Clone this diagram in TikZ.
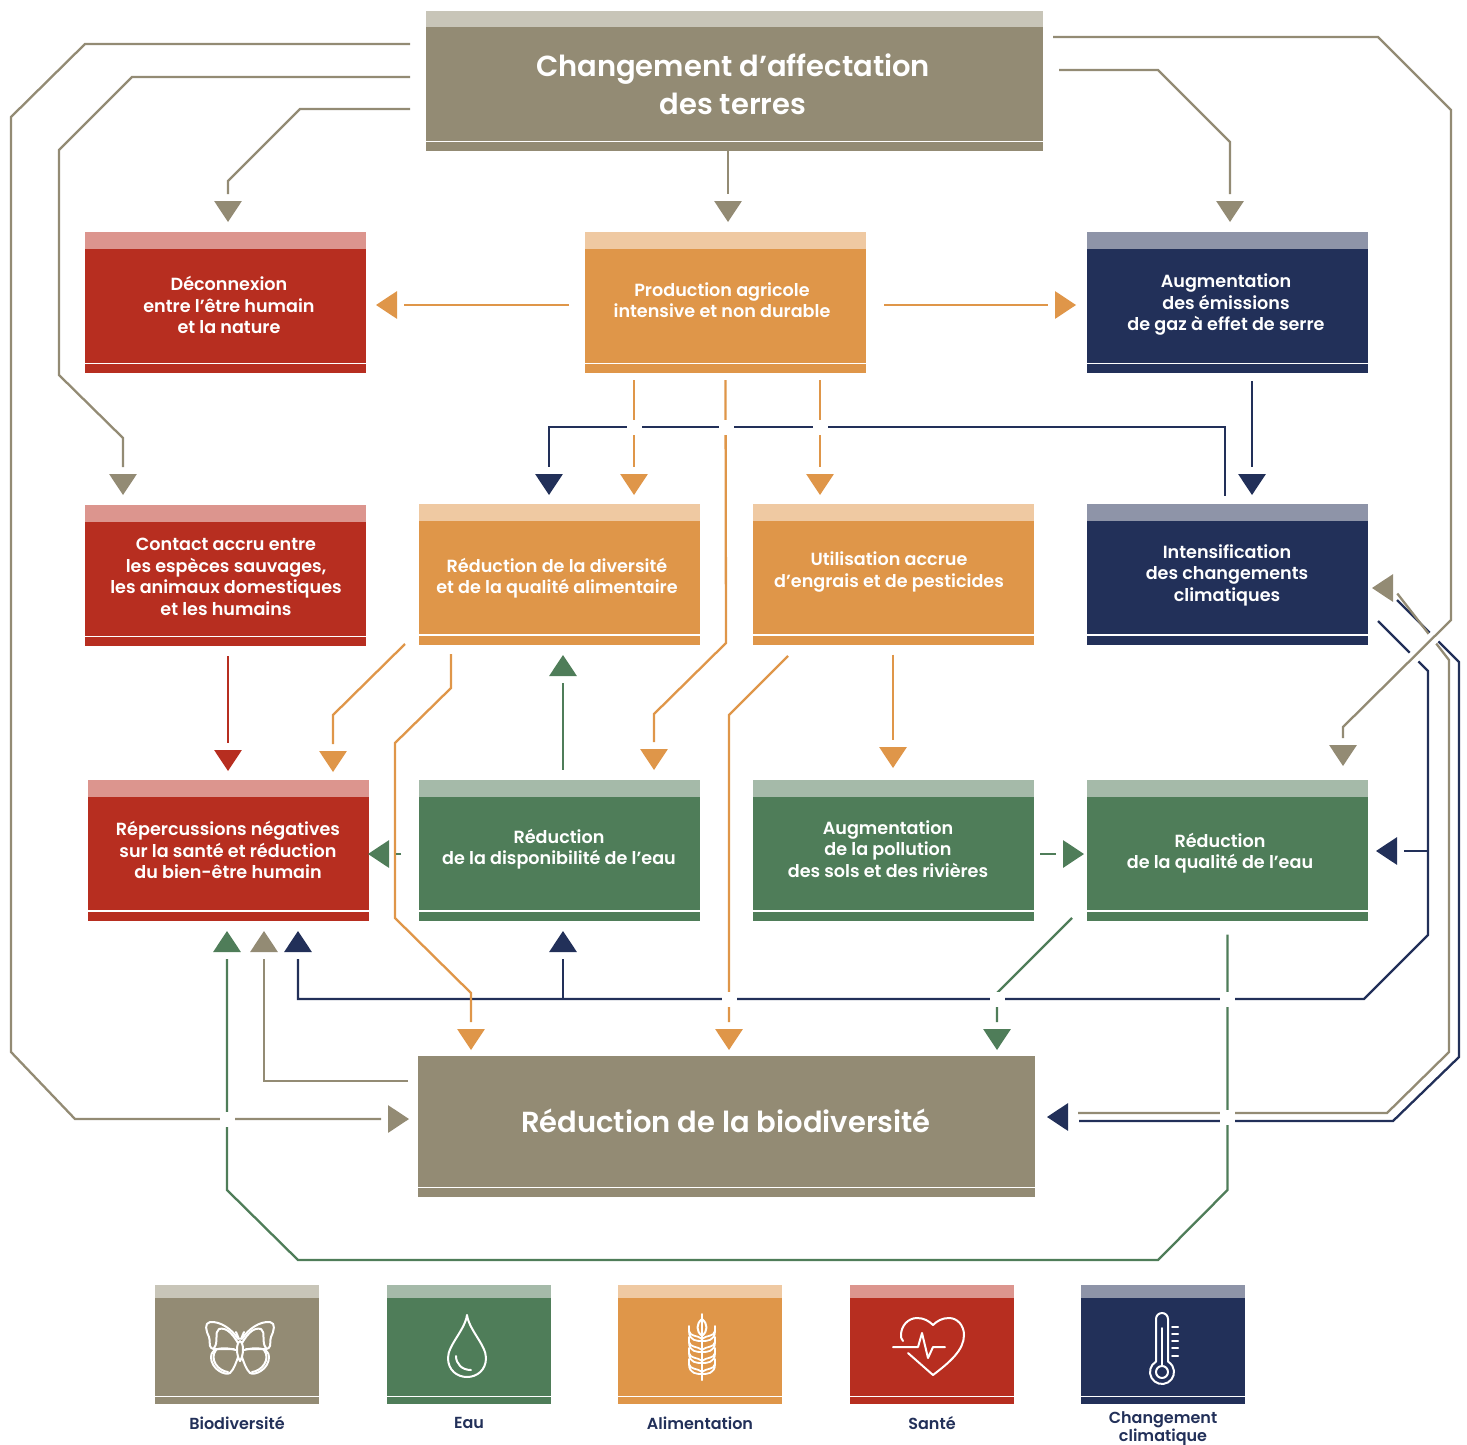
\documentclass[tikz,border=0pt]{standalone}
\usepackage{fontspec}
\setmainfont{Poppins}[BoldFont={Poppins SemiBold}]
\usetikzlibrary{shapes.geometric}
\definecolor{taupe}{HTML}{938B74}
\definecolor{taupeL}{HTML}{C8C5B8}
\definecolor{leaf}{HTML}{4F7D59}
\definecolor{leafL}{HTML}{A5BAA9}
\definecolor{grain}{HTML}{DF9649}
\definecolor{grainL}{HTML}{EFC9A2}
\definecolor{brick}{HTML}{B72E20}
\definecolor{brickL}{HTML}{DC958E}
\definecolor{navy}{HTML}{223059}
\definecolor{navyL}{HTML}{8E94A8}
\tikzset{
  box/.style n args={4}{rectangle, inner sep=0pt, outer sep=0pt, fill=#1, path picture={
    \fill[#2] (path picture bounding box.north west) rectangle ([yshift=-#3pt]path picture bounding box.north east);
    \fill[white] ([yshift=#4pt]path picture bounding box.south west) rectangle ([yshift=#4pt+1.4pt]path picture bounding box.south east);}},
  lab/.style={text=white, align=center, font=\bfseries\fontsize{17.6}{21.5}\selectfont},
  biglab/.style={text=white, align=center, font=\bfseries\fontsize{29}{38}\selectfont},
  leglab/.style={text=navy, align=center, font=\bfseries\fontsize{16}{18}\selectfont},
  hd/.style 2 args={isosceles triangle, isosceles triangle apex angle=67, inner sep=0pt, outer sep=0pt, minimum height=21pt, fill=#1, shape border rotate=#2, anchor=apex},
  ln/.style={draw=#1, line width=2.3pt, shorten >=7pt},
  gapsq/.style={rectangle, fill=white, inner sep=0pt, minimum size=15pt},
  icon/.style={draw=white, line width=2pt, line cap=round, line join=round}
}
\begin{document}
\begin{tikzpicture}[x=1pt, y=-1pt]
  \useasboundingbox (0,0) rectangle (1467,1445);

  \node[box={taupe}{taupeL}{16}{9}, minimum width=617pt, minimum height=140pt] (title) at (734.5,81) {};
  \node[box={taupe}{taupe}{16}{9}, minimum width=617pt, minimum height=141pt] (bio) at (726.5,1126.5) {};
  \foreach \nm/\cl/\x/\y in {decon/brick/225.5/302.5, prod/grain/725.5/302.5, ghg/navy/1227.5/302.5,
    contact/brick/225.5/575.5, diet/grain/559.5/574, engr/grain/893.5/574, clim/navy/1227.5/574,
    rep/brick/228.5/850, dispo/leaf/559.5/850, pollu/leaf/893.5/850, qual/leaf/1227.5/850}
    \node[box={\cl}{\cl L}{17}{9}, minimum width=281pt, minimum height=141pt] (\nm) at (\x,\y) {};

  \foreach \nm/\x/\y/\txt in {
    titleT/733/84/{Changement d’affectation\\des terres},
    bioT/726/1121/{Réduction de la biodiversité}}
    \node[biglab] (\nm) at (\x,\y) {\txt};
  \foreach \nm/\x/\y/\txt in {
    deconT/229/305/{Déconnexion\\entre l’être humain\\et la nature},
    prodT/722/300/{Production agricole\\intensive et non durable},
    ghgT/1226/305/{Augmentation\\des émissions\\de gaz à effet de serre},
    contactT/226/577/{Contact accru entre\\les espèces sauvages,\\les animaux domestiques\\et les humains},
    dietT/557/578/{Réduction de la diversité\\et de la qualité alimentaire},
    engrT/889/572/{Utilisation accrue\\d’engrais et de pesticides},
    climT/1227/575/{Intensification\\des changements\\climatiques},
    repT/228/850/{Répercussions négatives\\sur la santé et réduction\\du bien-être humain},
    dispoT/559/849/{Réduction\\de la disponibilité de l’eau},
    polluT/888/849/{Augmentation\\de la pollution\\des sols et des rivières},
    qualT/1220/853/{Réduction\\de la qualité de l’eau}}
    \node[lab] (\nm) at (\x,\y) {\txt};

  \foreach \nm/\cl/\r/\x/\y in {
    hDecon/taupe/-90/228/222, hProd/taupe/-90/728/222, hGhg/taupe/-90/1230/222,
    hDeconOr/grain/180/376/305, hGhgOr/grain/0/1076/305,
    hContact/taupe/-90/123/495, hDietNavy/navy/-90/549/495, hDietOr/grain/-90/634/495,
    hEngr/grain/-90/820/495, hClimNavy/navy/-90/1252/495, hClimTaupe/taupe/135/1372/588,
    hRepRed/brick/-90/228/771, hRepOr/grain/-90/333/772, hDispoOr/grain/-90/654/770,
    hPolluOr/grain/-90/893/768, hQualTaupe/taupe/-90/1343/766, hDietLeaf/leaf/90/563/655,
    hRepLeaf/leaf/180/368/854, hQualLeaf/leaf/0/1084/854, hQualNavy/navy/180/1376/851,
    hUpLeaf/leaf/90/227/931, hUpTaupe/taupe/90/264/931, hUpNavy/navy/90/298/931, hDispoNavy/navy/90/563/931,
    hBioOrA/grain/-90/471/1050, hBioOrB/grain/-90/729/1050, hBioLeaf/leaf/-90/997/1050,
    hBioTaupe/taupe/0/409/1119, hBioNavy/navy/180/1047/1117}
    \node[hd={\cl}{\r}] (\nm) at (\x,\y) {};

  \coordinate (climOutA) at (1397,600);
  \coordinate (climOutB) at (1378,621);

  \draw[ln=navy, shorten <=0pt, shorten >=11pt] (climOutA) -- (1459,662) -- (1459,1057) -- (1393,1121) -- (hBioNavy.lower side |- 0,1121);
  \draw[ln=navy, shorten <=0pt] (climOutB) -- (1428,671) -- (1428,935) -- (1364,999) -- (298,999) -- (hUpNavy.lower side);
  \draw[ln=navy] (1428,851) -- (hQualNavy.lower side);
  \draw[ln=navy] (563,999) -- (hDispoNavy.lower side);
  \draw[ln=taupe, shorten <=43pt] (bio.east |- 0,1113) -- (1387,1113) -- (1449,1052) -- (1449,660) -- (hClimTaupe.lower side);
  \draw[white, line width=12pt] (1443,628) -- (1405,666);
  \draw[ln=taupe, shorten <=10pt] (title.east |- 0,37) -- (1378,37) -- (1451,110) -- (1451,620) -- (1343,727) -- (hQualTaupe.lower side);
  \draw[ln=taupe, shorten <=16pt] (title.east |- 0,70) -- (1158,70) -- (1230,142) -- (hGhg.lower side);
  \draw[ln=taupe, shorten <=16pt] (title.west |- 0,109) -- (300,109) -- (228,181) -- (hDecon.lower side);
  \draw[ln=taupe, shorten <=16pt] (title.west |- 0,77) -- (132,77) -- (59,150) -- (59,375) -- (123,438) -- (hContact.lower side);
  \draw[ln=taupe, shorten <=16pt] (title.west |- 0,44) -- (85,44) -- (11,117) -- (11,1052) -- (75,1119) -- (hBioTaupe.lower side);
  \draw[ln=taupe] (title.south -| hProd) -- (hProd.lower side);
  \draw[ln=taupe, shorten <=10pt] (bio.west |- 0,1081) -- (264,1081) -- (hUpTaupe.lower side);

  \draw[ln=grain, shorten <=16pt] (prod.west |- hDeconOr) -- (hDeconOr.lower side);
  \draw[ln=grain, shorten <=18pt] (prod.east |- hGhgOr) -- (hGhgOr.lower side);
  \draw[ln=grain, shorten <=7pt] (prod.south -| hDietOr) -- (hDietOr.lower side);
  \draw[ln=grain, shorten <=7pt] (prod.south -| hEngr) -- (hEngr.lower side);
  \draw[ln=grain, shorten <=7pt] (prod.south) -- (726,643) -- (654,714) -- (hDispoOr.lower side);
  \draw[ln=grain] (405,644) -- (333,715) -- (hRepOr.lower side);
  \draw[ln=grain, shorten <=9pt] (451,645) -- (451,688) -- (395,743) -- (395,918) -- (471,993) -- (hBioOrA.lower side);
  \draw[ln=grain] (788,656) -- (729,715) -- (hBioOrB.lower side);
  \draw[ln=grain, shorten <=10pt] (engr.south -| hPolluOr) -- (hPolluOr.lower side);
  \draw[ln=navy, shorten <=8pt] (clim.north -| 1225,0) -- (1225,427) -- (549,427) -- (hDietNavy.lower side);
  \draw[ln=navy, shorten <=8pt] (ghg.south -| hClimNavy) -- (hClimNavy.lower side);
  \draw[ln=brick, shorten <=10pt] (contact.south -| hRepRed) -- (hRepRed.lower side);

  \draw[ln=leaf, shorten <=10pt] (dispo.north -| hDietLeaf) -- (hDietLeaf.lower side);
  \draw[ln=leaf, shorten <=18pt] (dispo.west |- hRepLeaf) -- (hRepLeaf.lower side);
  \draw[ln=leaf, shorten <=6pt] (pollu.east |- hQualLeaf) -- (hQualLeaf.lower side);
  \draw[ln=leaf] (1072,918) -- (997,993) -- (hBioLeaf.lower side);
  \draw[ln=leaf, shorten <=14pt] (qual.south) -- (1227.5,1190) -- (1158,1260) -- (298,1260) -- (227,1190) -- (hUpLeaf.lower side);

  \foreach \nm/\x/\y in {xa/634/427, xb/726/427, xc/820/427, xd/729/999, xe/997/999, xf/1227.5/999,
    xg/1227.5/1117, xh/227/1119}
    \node[gapsq] (\nm) at (\x,\y) {};

  \foreach \nm/\cl/\x/\y/\txt in {
    legBio/taupe/237/1423/{Biodiversité}, legEau/leaf/469/1423/{Eau}, legAli/grain/700/1423/{Alimentation},
    legSan/brick/932/1423/{Santé}, legCli/navy/1163/1429/{Changement\\climatique}}{
    \node[box={\cl}{\cl L}{13}{7}, minimum width=164pt, minimum height=119pt, anchor=north] (\nm) at (\x,1285) {};
    \node[leglab] (\nm T) at (\x,\y) {\txt};
  }

  \foreach \s in {-1,1}{
    \begin{scope}[shift={(240,1347)}, xscale=\s, icon]
      \draw (2,-8) .. controls (8,-18) and (20,-26) .. (30,-25) .. controls (36,-24) and (34,-16) .. (31,-10) .. controls (29,-3) and (33,2) .. (24,2) -- (6,2);
      \draw (2,-4) .. controls (8,-14) and (14,-20) .. (21,-18) .. controls (26,-15) and (21,-5) .. (26,1);
      \draw (4,3) .. controls (15,0) and (29,0) .. (29,10) .. controls (29,22) and (15,29) .. (10,26) .. controls (6,22) and (4,16) .. (2,10);
      \draw (24,3) .. controls (31,12) and (22,24) .. (12,25);
      \draw (0,-6) .. controls (4,-4) and (4,8) .. (0,14);
      \draw (1,-8) -- (4,-15);
    \end{scope}
  }

  \draw[icon] (467,1315) .. controls (465,1330) and (448,1345) .. (448,1358) .. controls (448,1370) and (457,1377) .. (467,1377) .. controls (477,1377) and (486,1370) .. (486,1358) .. controls (486,1345) and (469,1330) .. cycle;
  \draw[icon] (456,1356) .. controls (456,1364) and (462,1370) .. (471,1370);

  \draw[icon] (702,1314) -- (702,1380);
  \draw[icon] (702,1319) .. controls (696,1324) and (696,1331) .. (702,1336) .. controls (708,1331) and (708,1324) .. (702,1319);
  \foreach \yy in {1331,1342,1353,1364}{
    \foreach \s in {-1,1}{
      \draw[icon, line width=1.8pt] (702,\yy+8) .. controls (702+\s*4,\yy+4) and (702+\s*12,\yy+6) .. (702+\s*13,\yy) -- (702+\s*13,\yy-5);
      \draw[icon, line width=1.8pt] (702,\yy+10) .. controls (702+\s*5,\yy+10) and (702+\s*13,\yy+10) .. (702+\s*13,\yy);
    }
  }

  \draw[icon] (908,1353) -- (933,1375) .. controls (950,1362) and (964,1350) .. (964,1335) .. controls (964,1325) and (957,1318) .. (949,1318) .. controls (942,1318) and (937,1321) .. (933,1325) .. controls (929,1321) and (924,1318) .. (917,1318) .. controls (908,1318) and (901,1326) .. (901,1335) .. controls (901,1337) and (901,1339) .. (903,1341);
  \draw[icon] (893,1347) -- (918,1347) -- (922,1333) -- (928,1358) -- (933,1347) -- (945,1347);

  \draw[icon] (1168,1361.6) -- (1168,1319) arc[start angle=0, end angle=180, radius=6pt] -- (1156,1361.6) arc[start angle=120, end angle=420, radius=12pt];
  \draw[icon] (1162,1372) circle[radius=6pt];
  \draw[icon] (1162,1328) -- (1162,1366);
  \foreach \yy in {1327,1334,1341,1348,1356}
    \draw[icon] (1172,\yy) -- (1178,\yy);
\end{tikzpicture}
\end{document}
